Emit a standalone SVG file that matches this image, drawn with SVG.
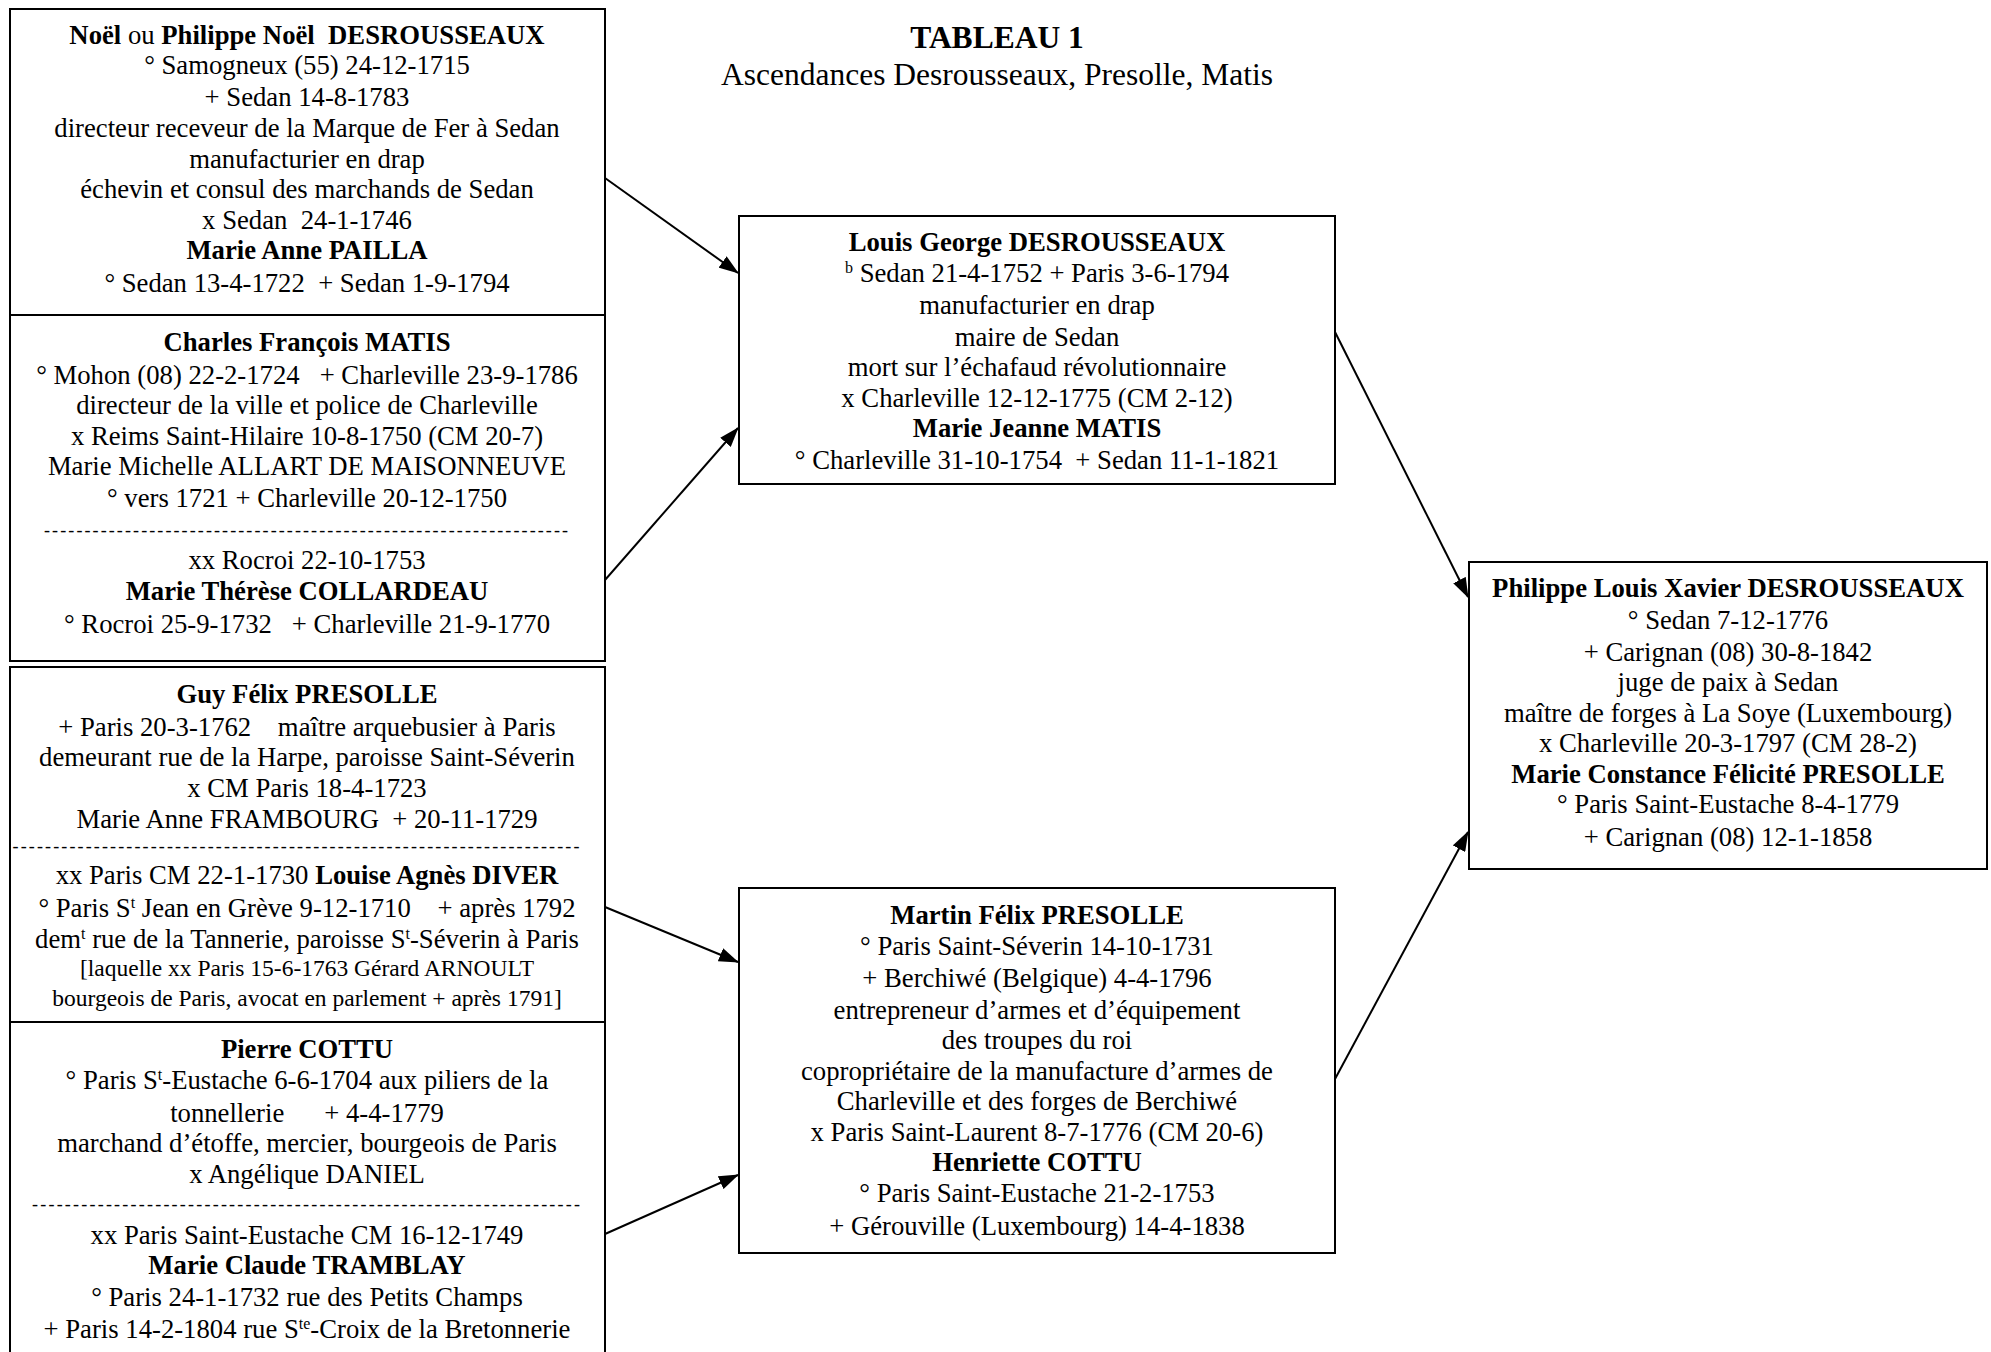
<svg xmlns="http://www.w3.org/2000/svg" width="1991" height="1352" viewBox="0 0 1991 1352">
<style>
text{font-family:"Liberation Serif","Times New Roman",serif;font-size:26.7px;fill:#000;text-anchor:middle;white-space:pre}
.b{font-weight:bold}
.sm{font-size:23.5px}
.dash{font-size:18px}
.box{fill:#fff;stroke:#000;stroke-width:2}
.conn{stroke:#000;stroke-width:2;fill:none;marker-end:url(#ah)}
.title{font-size:31.5px;font-weight:bold}
.sub{font-size:31.5px}
</style>
<defs>
<marker id="ah" markerUnits="userSpaceOnUse" markerWidth="20" markerHeight="14" refX="19" refY="7" orient="auto">
<path d="M0,0 L20,7 L0,14 z" fill="#000"/>
</marker>
</defs>
<rect width="1991" height="1352" fill="#fff"/>
<g id="title">
<text class="title" x="997" y="48">TABLEAU 1</text>
<text class="sub" x="997" y="85">Ascendances Desrousseaux, Presolle, Matis</text>
</g>
<g id="connectors">
<line class="conn" x1="605" y1="178" x2="738" y2="273"/>
<line class="conn" x1="605" y1="580" x2="738" y2="428"/>
<line class="conn" x1="605" y1="907" x2="738" y2="962"/>
<line class="conn" x1="605" y1="1234" x2="738" y2="1175"/>
<line class="conn" x1="1335" y1="332" x2="1468" y2="597"/>
<line class="conn" x1="1335" y1="1079" x2="1468" y2="832"/>
</g>
<g id="node-noel">
<rect class="box" x="10" y="9" width="595" height="306"/>
<text x="307" y="44"><tspan class="b">Noël</tspan> ou <tspan class="b">Philippe Noël  DESROUSSEAUX</tspan></text>
<text x="307" y="74">° Samogneux (55) 24-12-1715</text>
<text x="307" y="106">+ Sedan 14-8-1783</text>
<text x="307" y="137">directeur receveur de la Marque de Fer à Sedan</text>
<text x="307" y="168">manufacturier en drap</text>
<text x="307" y="198">échevin et consul des marchands de Sedan</text>
<text x="307" y="229">x Sedan  24-1-1746</text>
<text x="307" y="259" class="b">Marie Anne PAILLA</text>
<text x="307" y="292">° Sedan 13-4-1722  + Sedan 1-9-1794</text>
</g>
<g id="node-matis">
<rect class="box" x="10" y="315" width="595" height="346"/>
<text x="307" y="351" class="b">Charles François MATIS</text>
<text x="307" y="384">° Mohon (08) 22-2-1724   + Charleville 23-9-1786</text>
<text x="307" y="414">directeur de la ville et police de Charleville</text>
<text x="307" y="445">x Reims Saint-Hilaire 10-8-1750 (CM 20-7)</text>
<text x="307" y="475">Marie Michelle ALLART DE MAISONNEUVE</text>
<text x="307" y="507">° vers 1721 + Charleville 20-12-1750</text>
<text class="dash" x="306" y="536" textLength="524" lengthAdjust="spacing">-----------------------------------------------------------------</text>
<text x="307" y="569">xx Rocroi 22-10-1753</text>
<text x="307" y="600" class="b">Marie Thérèse COLLARDEAU</text>
<text x="307" y="633">° Rocroi 25-9-1732   + Charleville 21-9-1770</text>
</g>
<g id="node-presolle">
<rect class="box" x="10" y="667" width="595" height="355"/>
<text x="307" y="703" class="b">Guy Félix PRESOLLE</text>
<text x="307" y="736">+ Paris 20-3-1762    maître arquebusier à Paris</text>
<text x="307" y="766">demeurant rue de la Harpe, paroisse Saint-Séverin</text>
<text x="307" y="797">x CM Paris 18-4-1723</text>
<text x="307" y="828">Marie Anne FRAMBOURG  + 20-11-1729</text>
<text class="dash" x="296" y="852" textLength="567" lengthAdjust="spacing">----------------------------------------------------------------------</text>
<text x="307" y="884">xx Paris CM 22-1-1730 <tspan class="b">Louise Agnès DIVER</tspan></text>
<text x="307" y="917">° Paris S<tspan dy="-9" font-size="16">t</tspan><tspan dy="9"> Jean en Grève 9-12-1710    + après 1792</tspan></text>
<text x="307" y="948">dem<tspan dy="-9" font-size="16">t</tspan><tspan dy="9"> rue de la Tannerie, paroisse S</tspan><tspan dy="-9" font-size="16">t</tspan><tspan dy="9">-Séverin à Paris</tspan></text>
<text x="307" y="976" class="sm">[laquelle xx Paris 15-6-1763 Gérard ARNOULT</text>
<text x="307" y="1006" class="sm">bourgeois de Paris, avocat en parlement + après 1791]</text>
</g>
<g id="node-cottu">
<rect class="box" x="10" y="1022" width="595" height="345"/>
<text x="307" y="1058" class="b">Pierre COTTU</text>
<text x="307" y="1089">° Paris S<tspan dy="-9" font-size="16">t</tspan><tspan dy="9">-Eustache 6-6-1704 aux piliers de la</tspan></text>
<text x="307" y="1122">tonnellerie      + 4-4-1779</text>
<text x="307" y="1152">marchand d’étoffe, mercier, bourgeois de Paris</text>
<text x="307" y="1183">x Angélique DANIEL</text>
<text class="dash" x="306" y="1210" textLength="548" lengthAdjust="spacing">-------------------------------------------------------------------</text>
<text x="307" y="1244">xx Paris Saint-Eustache CM 16-12-1749</text>
<text x="307" y="1274" class="b">Marie Claude TRAMBLAY</text>
<text x="307" y="1306">° Paris 24-1-1732 rue des Petits Champs</text>
<text x="307" y="1338">+ Paris 14-2-1804 rue S<tspan dy="-9" font-size="16">te</tspan><tspan dy="9">-Croix de la Bretonnerie</tspan></text>
</g>
<g id="node-louis">
<rect class="box" x="739" y="216" width="596" height="268"/>
<text x="1037" y="251" class="b">Louis George DESROUSSEAUX</text>
<text x="1037" y="282"><tspan dy="-9" font-size="16">b</tspan><tspan dy="9"> Sedan 21-4-1752 + Paris 3-6-1794</tspan></text>
<text x="1037" y="314">manufacturier en drap</text>
<text x="1037" y="346">maire de Sedan</text>
<text x="1037" y="376">mort sur l’échafaud révolutionnaire</text>
<text x="1037" y="407">x Charleville 12-12-1775 (CM 2-12)</text>
<text x="1037" y="437" class="b">Marie Jeanne MATIS</text>
<text x="1037" y="469">° Charleville 31-10-1754  + Sedan 11-1-1821</text>
</g>
<g id="node-martin">
<rect class="box" x="739" y="888" width="596" height="365"/>
<text x="1037" y="924" class="b">Martin Félix PRESOLLE</text>
<text x="1037" y="955">° Paris Saint-Séverin 14-10-1731</text>
<text x="1037" y="987">+ Berchiwé (Belgique) 4-4-1796</text>
<text x="1037" y="1019">entrepreneur d’armes et d’équipement</text>
<text x="1037" y="1049">des troupes du roi</text>
<text x="1037" y="1080">copropriétaire de la manufacture d’armes de</text>
<text x="1037" y="1110">Charleville et des forges de Berchiwé</text>
<text x="1037" y="1141">x Paris Saint-Laurent 8-7-1776 (CM 20-6)</text>
<text x="1037" y="1171" class="b">Henriette COTTU</text>
<text x="1037" y="1202">° Paris Saint-Eustache 21-2-1753</text>
<text x="1037" y="1235">+ Gérouville (Luxembourg) 14-4-1838</text>
</g>
<g id="node-philippe">
<rect class="box" x="1469" y="562" width="518" height="307"/>
<text x="1728" y="597" class="b">Philippe Louis Xavier DESROUSSEAUX</text>
<text x="1728" y="629">° Sedan 7-12-1776</text>
<text x="1728" y="661">+ Carignan (08) 30-8-1842</text>
<text x="1728" y="691">juge de paix à Sedan</text>
<text x="1728" y="722">maître de forges à La Soye (Luxembourg)</text>
<text x="1728" y="752">x Charleville 20-3-1797 (CM 28-2)</text>
<text x="1728" y="783" class="b">Marie Constance Félicité PRESOLLE</text>
<text x="1728" y="813">° Paris Saint-Eustache 8-4-1779</text>
<text x="1728" y="846">+ Carignan (08) 12-1-1858</text>
</g>
</svg>
